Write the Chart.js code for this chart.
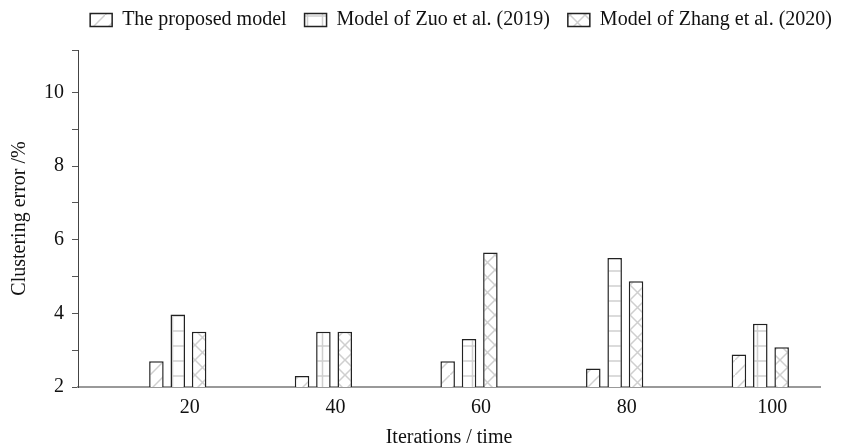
<!DOCTYPE html>
<html>
<head>
<meta charset="utf-8">
<script src="https://cdn.jsdelivr.net/npm/chart.js@4"></script>
<style>
  html, body { margin: 0; padding: 0; background: #fff; }
  #wrap { width: 848px; height: 447px; }
</style>
</head>
<body>
<div id="wrap"><canvas id="chart"></canvas></div>
<script>
const iterations = [20, 40, 60, 80, 100];
const proposed = [2.7, 2.3, 2.7, 2.5, 2.88];
const zuo = [3.97, 3.5, 3.3, 5.5, 3.72];
const zhang = [3.5, 3.5, 5.65, 4.87, 3.08];
const yTicks = [2, 3, 4, 5, 6, 7, 8, 9, 10, 11.15];
const seriesNames = ['The proposed model', 'Model of Zuo et al. (2019)', 'Model of Zhang et al. (2020)'];

// hatch fills for the bars
function makePattern(kind) {
  const size = 15;
  const c = document.createElement('canvas');
  c.width = size;
  c.height = size;
  const g = c.getContext('2d');
  g.fillStyle = '#fff';
  g.fillRect(0, 0, size, size);
  g.strokeStyle = '#cfcfcf';
  g.lineWidth = 1.5;
  g.beginPath();
  if (kind === 'diag' || kind === 'cross') {
    g.moveTo(-1, size + 1); g.lineTo(size + 1, -1);
  }
  if (kind === 'cross') {
    g.moveTo(-1, -1); g.lineTo(size + 1, size + 1);
  }
  if (kind === 'grid') {
    g.moveTo(0, 1); g.lineTo(size, 1);
    g.moveTo(7.5, 0); g.lineTo(7.5, size);
  }
  g.stroke();
  return g.createPattern(c, 'repeat');
}

const fills = [makePattern('diag'), makePattern('grid'), makePattern('cross')];
const values = [proposed, zuo, zhang];

const font = 'Liberation Serif';

new Chart(document.getElementById('chart'), {
  type: 'bar',
  data: {
    datasets: values.map((vals, k) => ({
      label: seriesNames[k],
      data: iterations.map((x, i) => ({ x: x, y: vals[i] })),
      backgroundColor: fills[k],
      borderColor: '#222',
      borderWidth: 1.5,
      barPercentage: 0.68,
      categoryPercentage: 0.44
    }))
  },
  options: {
    responsive: true,
    maintainAspectRatio: false,
    animation: false,
    layout: { padding: { left: 0, right: -2, top: -8, bottom: 0 } },
    plugins: {
      tooltip: { enabled: false },
      legend: {
        position: 'top',
        align: 'end',
        labels: {
          font: { family: font, size: 20 },
          color: '#111',
          boxWidth: 22,
          boxHeight: 13,
          padding: 18
        }
      },
      // empty spacer between legend and plot
      subtitle: {
        display: true,
        text: '',
        position: 'top',
        weight: 500,
        padding: 0,
        font: { size: 10, lineHeight: 1 }
      }
    },
    scales: {
      x: {
        type: 'linear',
        offset: false,
        min: 6.3,
        max: 108.2,
        afterBuildTicks: s => { s.ticks = iterations.map(v => ({ value: v })); },
        grid: { display: false, drawTicks: false },
        border: { color: '#999', width: 2 },
        ticks: {
          font: { family: font, size: 20, lineHeight: 1 },
          color: '#111',
          labelOffset: 12,
          padding: 11,
          maxRotation: 0,
          autoSkip: false,
          callback: v => v
        },
        title: {
          display: true,
          text: 'Iterations / time',
          font: { family: font, size: 20, lineHeight: 0.9 },
          color: '#111',
          padding: { top: 0, bottom: 0 }
        }
      },
      y: {
        min: 2,
        max: 11.15,
        afterBuildTicks: s => { s.ticks = yTicks.map(v => ({ value: v })); },
        grid: { drawOnChartArea: false, drawTicks: true, tickLength: 6, color: '#555' },
        border: { color: '#444', width: 1 },
        ticks: {
          font: { family: font, size: 20 },
          color: '#111',
          padding: 8,
          callback: v => (v % 2 === 0 ? v : '')
        },
        title: {
          display: true,
          text: 'Clustering error /%',
          font: { family: font, size: 20, lineHeight: 1.1 },
          color: '#111',
          padding: { top: 9, bottom: 5 }
        }
      },
      yR: {
        type: 'linear',
        position: 'right',
        display: true,
        grid: { display: false, drawTicks: false },
        border: { display: false },
        ticks: { display: false },
        afterFit: s => { s.width = 30; }
      }
    }
  }
});
</script>
</body>
</html>
